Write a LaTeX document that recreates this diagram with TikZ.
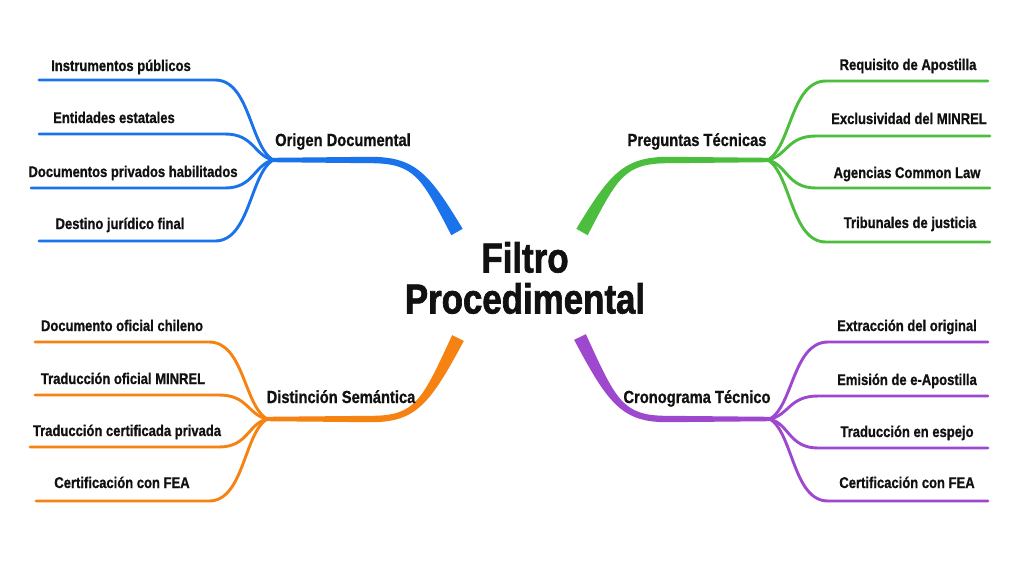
\documentclass[tikz,border=0pt]{standalone}
\usepackage{fontspec}
\setmainfont{Liberation Sans}
\newfontfamily\labfont{Liberation Sans}[FakeStretch=0.84, BoldFeatures={FakeBold=0.9}]
\newfontfamily\titlefont{Liberation Sans}[FakeStretch=0.83, BoldFeatures={FakeBold=1.6}]
\usetikzlibrary{calc}
\definecolor{cblue}{RGB}{26,115,235}
\definecolor{cgreen}{RGB}{76,190,62}
\definecolor{corange}{RGB}{246,130,18}
\definecolor{cpurple}{RGB}{158,72,208}
\definecolor{ink}{RGB}{17,17,17}
\tikzset{
  leaf/.style={line width=2.9pt, line cap=round},
  leaflab/.style={font=\labfont\bfseries\fontsize{15.5}{18}\selectfont, text=ink, anchor=base, inner sep=0pt},
  branchlab/.style={font=\labfont\bfseries\fontsize{17.5}{20}\selectfont, text=ink, anchor=base, inner sep=0pt},
  titlelab/.style={font=\titlefont\bfseries\fontsize{42}{43}\selectfont, text=ink, align=center, inner sep=0pt}
}
\newcommand\mmmain[6]{% #1 color, #2 name, #3 Sx, #4 Sy, #5 Jx, #6 Jy
  \coordinate (#2S) at (#3,#4);
  \coordinate (#2J) at (#5,#6);
  \pgfmathsetmacro\mmh{sign(#5-#3)}
  \pgfmathsetmacro\mmdx{\mmh*32}
  \pgfmathsetmacro\mmdy{0.79*(#6-#4)}
  \pgfmathsetmacro\mmlen{veclen(\mmdx,\mmdy)}
  \pgfmathsetmacro\mmpx{\mmdy/\mmlen}
  \pgfmathsetmacro\mmpy{-\mmdx/\mmlen}
  \coordinate (#2K) at ({#3+\mmh*87},#6);
  \coordinate (#2A) at ({#3+\mmdx},{#4+\mmdy});
  \coordinate (#2B) at ({#3+\mmh*42},#6);
  \fill[#1] ($(#2S)+({6.5*\mmpx},{6.5*\mmpy})$) .. controls ($(#2A)+({4.5*\mmpx},{4.5*\mmpy})$) and ($(#2B)+(0,{-3.2*\mmh})$) .. ($(#2K)+(0,{-3.2*\mmh})$) -- ($(#2J)+(0,{-2.2*\mmh})$) -- ($(#2J)+(0,{2.2*\mmh})$) -- ($(#2K)+(0,{3.2*\mmh})$) .. controls ($(#2B)+(0,{3.2*\mmh})$) and ($(#2A)-({4.5*\mmpx},{4.5*\mmpy})$) .. ($(#2S)-({6.5*\mmpx},{6.5*\mmpy})$) -- cycle;
}
\newcommand\mmleaf[7]{% #1 color, #2 junction, #3 Jy, #4 dxH, #5 yoff, #6 endx, #7 name
  \coordinate (#7) at (#6,{#3+#5});
  \draw[leaf,#1] (#2) .. controls +({0.4*#4},{0.18*#5}) and +({-0.6*#4},0) .. ++(#4,#5) -- (#7);
}
\begin{document}
\begin{tikzpicture}[x=1pt,y=-1pt]
\fill[white] (0,0) rectangle (1024,576);
\useasboundingbox (0,0) rectangle (1024,576);

% Blue
\mmmain{cblue}{b}{457}{232}{273}{160}
\mmleaf{cblue}{bJ}{160}{-58}{-80}{39}{b1}
\mmleaf{cblue}{bJ}{160}{-48}{-26}{39}{b2}
\mmleaf{cblue}{bJ}{160}{-48}{28}{31}{b3}
\mmleaf{cblue}{bJ}{160}{-58}{81}{39}{b4}
% Green
\mmmain{cgreen}{g}{582}{232}{768}{160}
\mmleaf{cgreen}{gJ}{160}{58}{-79}{988}{g1}
\mmleaf{cgreen}{gJ}{160}{48}{-24}{990}{g2}
\mmleaf{cgreen}{gJ}{160}{48}{28}{990}{g3}
\mmleaf{cgreen}{gJ}{160}{58}{82}{990}{g4}
% Orange
\mmmain{corange}{o}{458}{338}{267}{419}
\mmleaf{corange}{oJ}{419}{-58}{-77}{35}{o1}
\mmleaf{corange}{oJ}{419}{-48}{-24}{35}{o2}
\mmleaf{corange}{oJ}{419}{-48}{28}{30}{o3}
\mmleaf{corange}{oJ}{419}{-58}{82}{36}{o4}
% Purple
\mmmain{cpurple}{p}{580}{337}{770}{419}
\mmleaf{cpurple}{pJ}{419}{58}{-77}{988}{p1}
\mmleaf{cpurple}{pJ}{419}{48}{-23}{988}{p2}
\mmleaf{cpurple}{pJ}{419}{48}{29}{988}{p3}
\mmleaf{cpurple}{pJ}{419}{58}{82}{988}{p4}

% Title
\node[titlelab] (title) at (525,278) {Filtro\\[-2pt]Procedimental};

% Branch labels
\node[branchlab] (bl) at (343,146) {Origen Documental};
\node[branchlab] (gl) at (697,146) {Preguntas Técnicas};
\node[branchlab] (ol) at (341,403) {Distinción Semántica};
\node[branchlab] (pl) at (697,403) {Cronograma Técnico};

% Leaf labels
\node[leaflab] (b1l) at (121,71) {Instrumentos públicos};
\node[leaflab] (b2l) at (114,123) {Entidades estatales};
\node[leaflab] (b3l) at (133,177) {Documentos privados habilitados};
\node[leaflab] (b4l) at (120,229) {Destino jurídico final};

\node[leaflab] (g1l) at (908,70) {Requisito de Apostilla};
\node[leaflab] (g2l) at (909,124) {Exclusividad del MINREL};
\node[leaflab] (g3l) at (907,178) {Agencias Common Law};
\node[leaflab] (g4l) at (910,228) {Tribunales de justicia};

\node[leaflab] (o1l) at (122,331) {Documento oficial chileno};
\node[leaflab] (o2l) at (123,384) {Traducción oficial MINREL};
\node[leaflab] (o3l) at (127,436) {Traducción certificada privada};
\node[leaflab] (o4l) at (122,488) {Certificación con FEA};

\node[leaflab] (p1l) at (907,331) {Extracción del original};
\node[leaflab] (p2l) at (907,385) {Emisión de e-Apostilla};
\node[leaflab] (p3l) at (907,437) {Traducción en espejo};
\node[leaflab] (p4l) at (907,488) {Certificación con FEA};
\end{tikzpicture}
\end{document}
